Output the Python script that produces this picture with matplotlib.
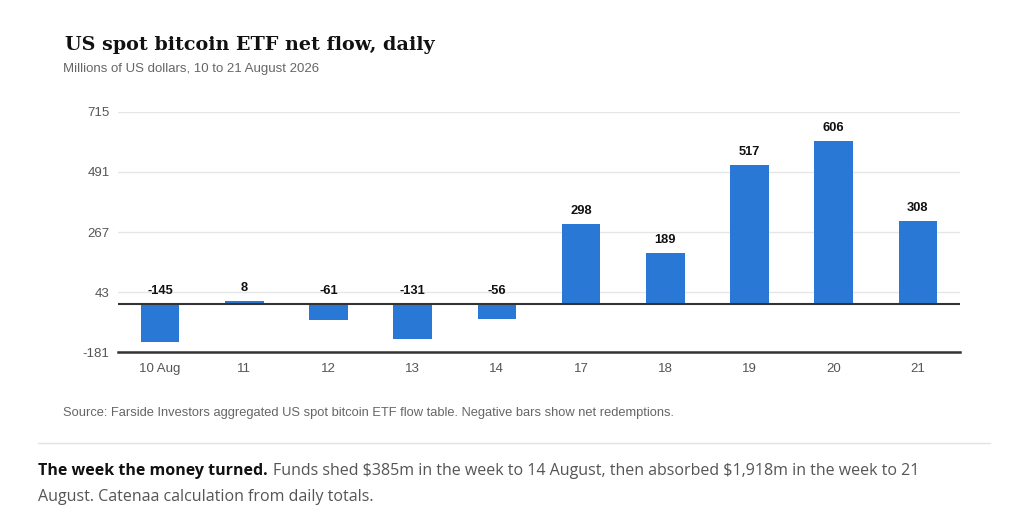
import matplotlib
matplotlib.use("Agg")
import matplotlib.pyplot as plt

plt.rcParams["axes.unicode_minus"] = False

# daily net flow, millions of US dollars
days = ["10 Aug", "11", "12", "13", "14", "17", "18", "19", "20", "21"]
flows = [-145, 8, -61, -131, -56, 298, 189, 517, 606, 308]
yticks = [-181, 43, 267, 491, 715]

bar_color = "#2a78d6"

fig = plt.figure(figsize=(10.24, 5.28), dpi=100)
ax = fig.add_axes([0.1152, 0.3333, 0.8223, 0.4546])

xs = list(range(len(days)))
ax.bar(xs, flows, width=0.46, color=bar_color, zorder=3)

ax.set_xlim(-0.5, len(days) - 0.5)
ax.set_ylim(yticks[0], yticks[-1])
ax.set_yticks(yticks)
ax.set_yticklabels([str(t) for t in yticks])
ax.set_xticks(xs)
ax.set_xticklabels(days)

ax.grid(axis="y", color="#e6e6e6", linewidth=1, zorder=0)
ax.axhline(0, color="#333333", linewidth=1.5, zorder=4)

for s in ["top", "right", "left"]:
    ax.spines[s].set_visible(False)
ax.spines["bottom"].set_color("#333333")
ax.spines["bottom"].set_linewidth(1.8)

ax.tick_params(axis="both", length=0, labelcolor="#555555", labelsize=9.5,
               labelfontfamily="Liberation Sans")
ax.tick_params(axis="x", pad=8)
ax.tick_params(axis="y", pad=6)

# value labels: above the bar top, or above the zero line for negatives
for x, v in zip(xs, flows):
    base = max(v, 0)
    ax.annotate(str(v), (x, base), xytext=(0, 5), textcoords="offset points",
                ha="center", va="bottom", fontsize=9.3, fontweight="bold",
                family="Liberation Sans", color="#111111", zorder=5)

fig.text(0.0635, 0.906, "US spot bitcoin ETF net flow, daily", family="DejaVu Serif",
         fontweight="bold", fontsize=13.8, color="#111111", va="baseline")
fig.text(0.0615, 0.864, "Millions of US dollars, 10 to 21 August 2026",
         family="Liberation Sans", fontsize=9.5, color="#666666", va="baseline")

fig.text(0.0615, 0.212, "Source: Farside Investors aggregated US spot bitcoin ETF flow table. "
         "Negative bars show net redemptions.",
         family="Liberation Sans", fontsize=9.3, color="#666666", va="baseline")

fig.add_artist(plt.Line2D([0.037, 0.967], [0.161, 0.161], color="#e3e3e3",
                          linewidth=1, transform=fig.transFigure))

t1 = fig.text(0.037, 0.100, "The week the money turned.", family="Open Sans",
              fontweight="bold", fontsize=11.5, color="#111111", va="baseline")
fig.canvas.draw()
bb = t1.get_window_extent()
fig.text(bb.x1 / fig.bbox.width + 0.005, 0.100,
         "Funds shed \\$385m in the week to 14 August, then absorbed \\$1,918m in the week to 21",
         family="Open Sans", fontsize=11.5, color="#555555", va="baseline")
fig.text(0.037, 0.051, "August. Catenaa calculation from daily totals.",
         family="Open Sans", fontsize=11.5, color="#555555", va="baseline")

fig.savefig("out.png", dpi=100, facecolor="white")
